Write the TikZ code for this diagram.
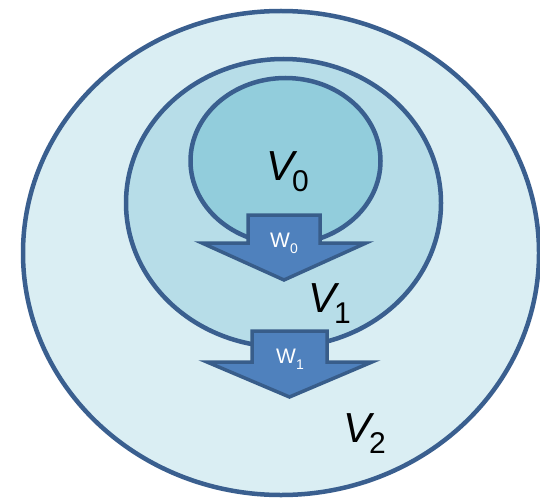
\documentclass[tikz,border=0pt]{standalone}
\usepackage{fontspec}
\setmainfont{Liberation Sans}
\definecolor{outerfill}{HTML}{DAEEF3}
\definecolor{midfill}{HTML}{B7DDE8}
\definecolor{innerfill}{HTML}{92CDDC}
\definecolor{ringline}{HTML}{3A5F8F}
\definecolor{arrowfill}{HTML}{4F81BD}
\definecolor{arrowline}{HTML}{385D8A}
\tikzset{
  ring/.style={draw=ringline, line width=4.5pt},
  blockarrow/.style={draw=arrowline, fill=arrowfill, line width=3.5pt, line join=miter},
  vlabel/.style={inner sep=0pt, anchor=base west, text=black},
  wlabel/.style={inner sep=0pt, anchor=base west, text=white}
}
\newcommand{\vsub}[1]{{\fontsize{42}{42}\selectfont\itshape V}\kern-2pt\raisebox{-11.5pt}{\fontsize{30}{30}\selectfont #1}}
\newcommand{\wsub}[1]{{\fontsize{21}{21}\selectfont W}\raisebox{-6.5pt}{\fontsize{14}{14}\selectfont #1}}
\begin{document}
\begin{tikzpicture}[x=1pt,y=-1pt]
\useasboundingbox (0,0) rectangle (540,500);
% sets
\draw[ring, fill=outerfill] (281,253) ellipse [x radius=258pt, y radius=242pt];
\draw[ring, fill=midfill] (283.5,203) ellipse [x radius=157.5pt, y radius=144pt];
\draw[ring, fill=innerfill] (285.5,161) ellipse [x radius=95pt, y radius=83pt];
% block arrows
\draw[blockarrow] (248,215) -- (320,215) -- (320,243) -- (366,243) -- (284,280) -- (202,243) -- (248,243) -- cycle;
\draw[blockarrow] (252,331) -- (327,331) -- (327,362) -- (372,362) -- (289.5,397) -- (207,362) -- (252,362) -- cycle;
% labels
\node[vlabel] (v0) at (266,180) {\vsub{0}};
\node[vlabel] (v1) at (308,312) {\vsub{1}};
\node[vlabel] (v2) at (343,442) {\vsub{2}};
\node[wlabel] (w0) at (270,247) {\wsub{0}};
\node[wlabel] (w1) at (276,363) {\wsub{1}};
\end{tikzpicture}
\end{document}
